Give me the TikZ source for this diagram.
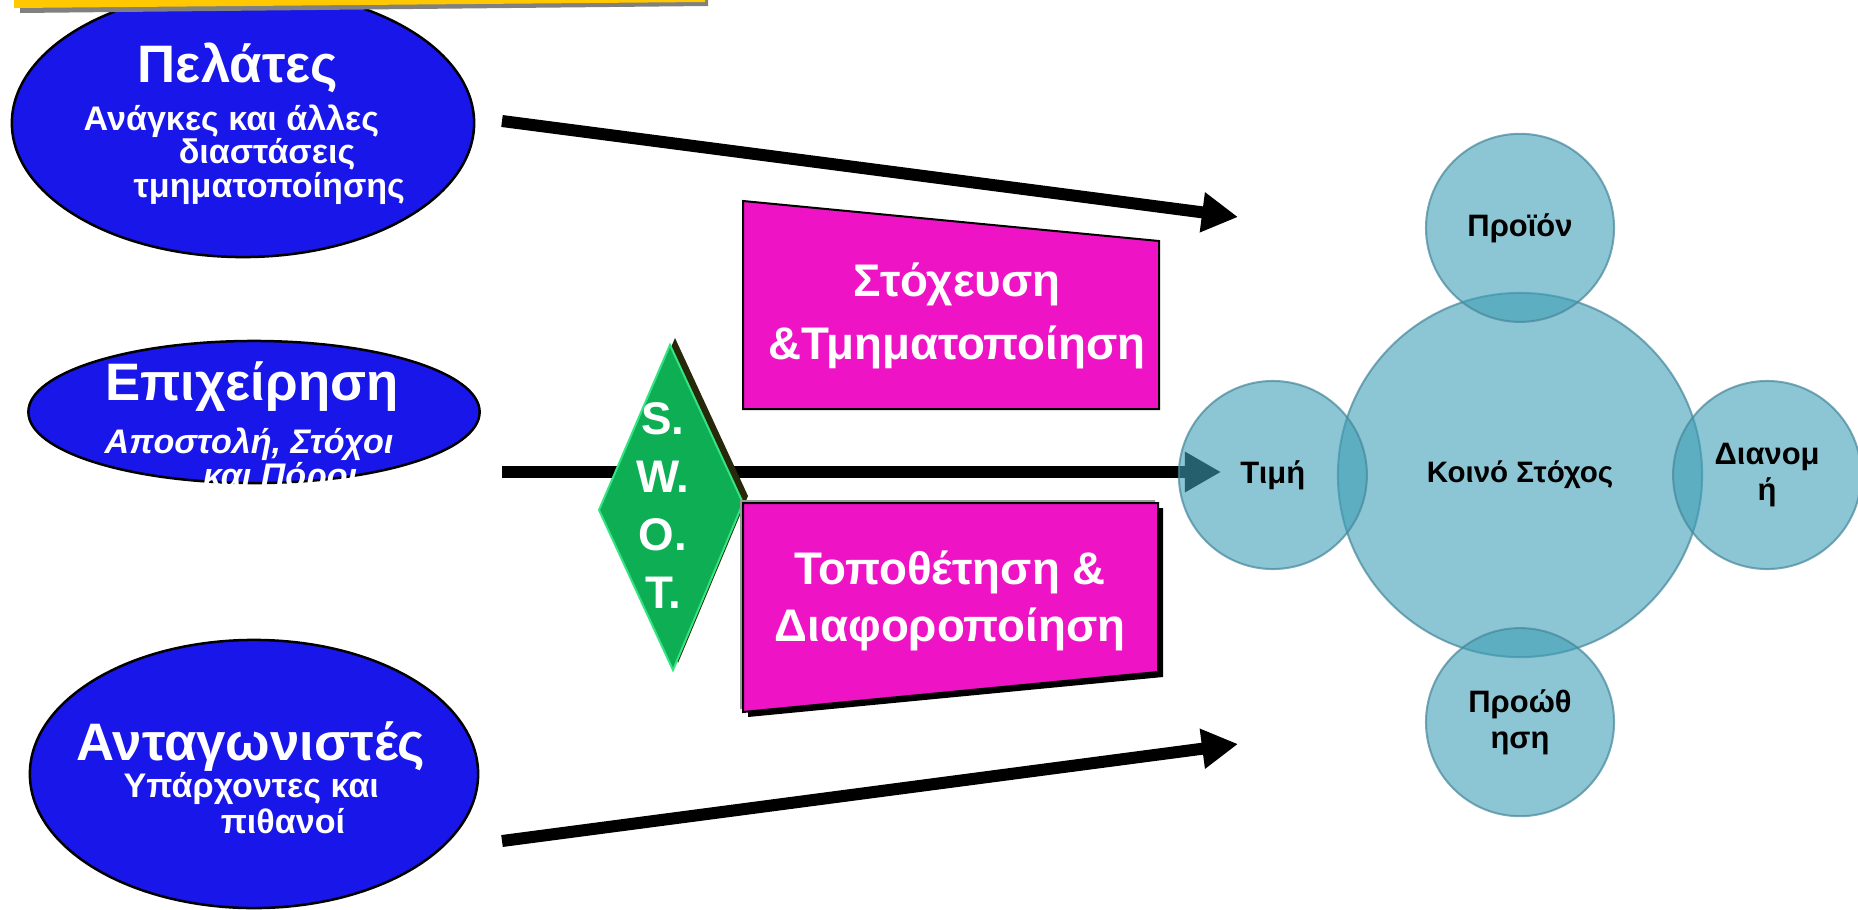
\documentclass[tikz,border=0pt]{standalone}
\usepackage{fontspec}
\setmainfont{Liberation Sans}
\usetikzlibrary{arrows.meta,positioning,shapes.geometric}

\definecolor{segblue}{RGB}{24,22,232}
\definecolor{swotgreen}{RGB}{14,174,84}
\definecolor{swotedge}{RGB}{52,228,130}
\definecolor{swotshade}{RGB}{40,40,10}
\definecolor{stratpink}{RGB}{238,20,198}
\definecolor{mixteal}{RGB}{63,158,182}
\definecolor{mixedge}{RGB}{70,135,155}
\definecolor{baryellow}{RGB}{255,200,0}
\definecolor{bargray}{RGB}{128,128,128}

\begin{document}
\begin{tikzpicture}[
    x=0.01cm, y=-0.01cm,
    segment/.style  = {ellipse, draw=black, line width=0.025cm,
                       fill=segblue, inner sep=0pt},
    headtxt/.style  = {text=white, anchor=base,
                       font=\fontsize{15}{17}\selectfont\bfseries},
    % multi-line texts sit on the baseline of their last line
    subtxt/.style   = {text=white, align=left, anchor=base west, inner sep=0pt,
                       font=\fontsize{9.7}{9.5}\selectfont\bfseries},
    % thick black arrow with a solid triangular head
    flow/.style     = {line width=0.12cm,
                       -{Triangle[length=0.36cm, width=0.38cm]}},
    stratbox/.style = {fill=stratpink, draw=black, line width=0.02cm},
    strattxt/.style = {text=white, align=center, anchor=base,
                       font=\fontsize{13}{17.9}\selectfont\bfseries},
    mixball/.style  = {circle, fill=mixteal, fill opacity=0.6,
                       draw=mixedge, draw opacity=0.7, line width=0.02cm,
                       text opacity=1, inner sep=0pt, align=center,
                       font=\fontsize{8.8}{10.2}\selectfont\bfseries},
]
\useasboundingbox (0,0) rectangle (1858,909);

% ============================================================
%  LEFT COLUMN  -  analysis inputs
% ============================================================

% ----------------------------------------------------------
%  Customers
% ----------------------------------------------------------
\node[segment, minimum width=4.62cm, minimum height=2.68cm] (pel) at (243,123) {};
\node[headtxt] (pelT) at (238,82) {Πελάτες};
\node[subtxt] (pelS) at (83,197)
    {Ανάγκες και άλλες\\\hspace*{0.95cm}διαστάσεις\\\hspace*{0.5cm}τμηματοποίησης};

% title strip across the top edge
\fill[bargray] (20,-5) -- (708,-5) -- (708,6) -- (20,13) -- cycle;
\fill[baryellow] (14,-5) -- (705,-5) -- (705,2) -- (14,8) -- cycle;

% ----------------------------------------------------------
%  Company
% ----------------------------------------------------------
\node[segment, minimum width=4.51cm, minimum height=1.42cm] (epi) at (254,412) {};
\node[headtxt] (epiT) at (252,400) {Επιχείρηση};
\begin{scope}
  \clip (0,0) rectangle (1858,485);
  \node[subtxt, font=\fontsize{9.7}{9.4}\selectfont\bfseries\itshape] (epiS) at (104,487)
      {Αποστολή, Στόχοι\\\hspace*{0.98cm}και Πόροι};
\end{scope}

% ----------------------------------------------------------
%  Competitors
% ----------------------------------------------------------
\node[segment, minimum width=4.48cm, minimum height=2.68cm] (ant) at (254,774) {};
\node[headtxt] (antT) at (251,760) {Ανταγωνιστές};
\node[subtxt, font=\fontsize{9.7}{8}\selectfont\bfseries] (antS) at (123,833)
    {Υπάρχοντες και\\\hspace*{0.97cm}πιθανοί};

% ============================================================
%  FLOW ARROWS
% ============================================================
\coordinate (pelTail) at (502,121);
\coordinate (pelTip)  at (1238,217);
\coordinate (epiTail) at (502,472);
\coordinate (timTip)  at (1221,472);
\coordinate (antTail) at (502,841);
\coordinate (antTip)  at (1238,744);

\draw[flow] (pelTail) -- (pelTip);
\draw[flow] (epiTail) -- (timTip);
\draw[flow] (antTail) -- (antTip);

% ============================================================
%  S.W.O.T. DIAMOND
% ============================================================
\fill[swotshade] (675,338) -- (748,496) -- (678,663) -- (604,503) -- cycle;
\draw[fill=swotgreen, draw=swotedge, line width=0.02cm]
    (670,345) -- (743,503) -- (673,670) -- (599,510) -- cycle;
\node[text=white, align=center, anchor=base,
      font=\fontsize{13}{16.4}\selectfont\bfseries] (swot) at (663,608)
    {S.\\W.\\O.\\T.};

% ============================================================
%  STRATEGY BOXES
% ============================================================
% targeting (top)
\draw[stratbox] (743,201) -- (1159,241) -- (1159,409) -- (743,409) -- cycle;
\node[strattxt] (targ) at (957,359) {Στόχευση\\\&Τμηματοποίηση};

% positioning (bottom), with grey rim and black drop shadow
\fill[gray!80, shift={(-3,-3)}] (743,503) -- (1158,503) -- (1158,672) -- (743,712) -- cycle;
\fill[black, shift={(5,5)}] (743,503) -- (1158,503) -- (1158,672) -- (743,712) -- cycle;
\draw[stratbox] (743,503) -- (1158,503) -- (1158,672) -- (743,712) -- cycle;
\node[strattxt, font=\fontsize{13}{16.2}\selectfont\bfseries] (posi) at (950,641)
    {Τοποθέτηση \&\\Διαφοροποίηση};

% ============================================================
%  MARKETING MIX  -  hub and four satellites
% ============================================================
\node[mixball, minimum size=3.64cm, font=\fontsize{8.4}{10}\selectfont\bfseries]
    (hub) at (1520,475) {Κοινό Στόχος};
\node[mixball, minimum size=1.88cm, left=-0.31cm of hub]  (tim)  {Τιμή};
\node[mixball, minimum size=1.88cm, above=-0.31cm of hub] (prod) {Προϊόν};
\node[mixball, minimum size=1.88cm, right=-0.31cm of hub] (dian) {Διανομ\\ή};
\node[mixball, minimum size=1.88cm, below=-0.31cm of hub] (prom) {Προώθ\\ηση};

\end{tikzpicture}
\end{document}
